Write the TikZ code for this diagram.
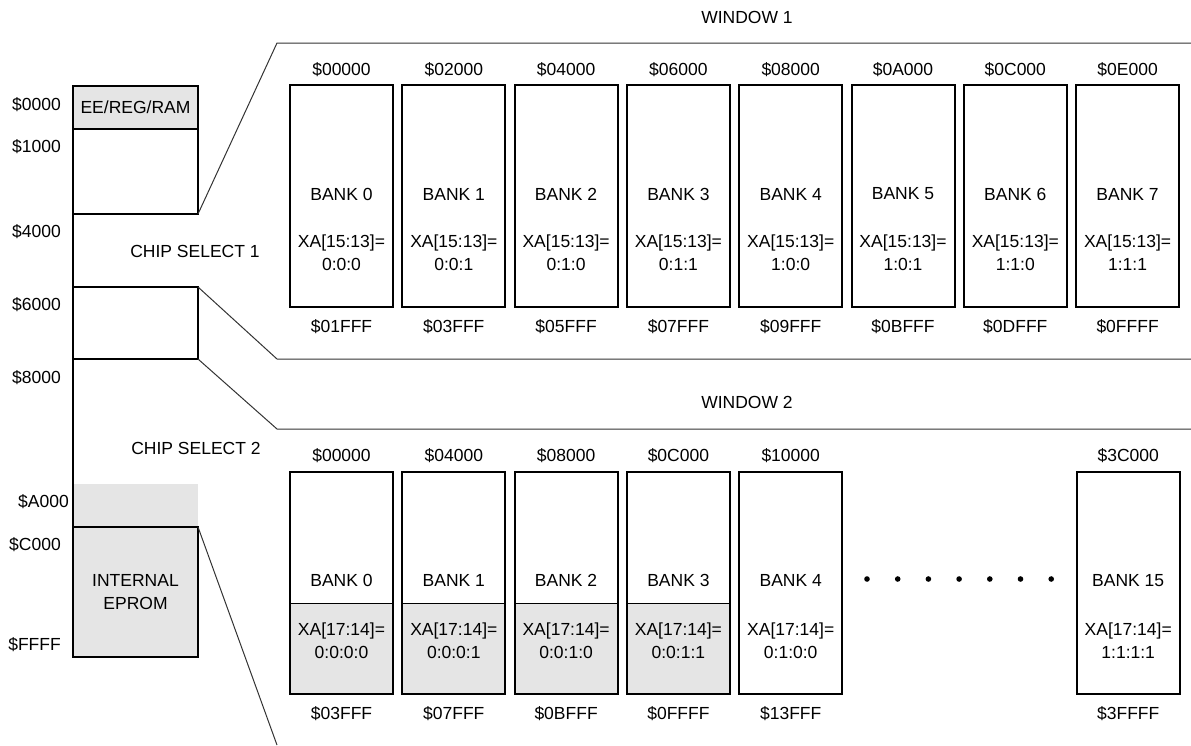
\documentclass[tikz,border=0pt]{standalone}
\usepackage{fontspec}
\setmainfont{Liberation Sans}
\usetikzlibrary{positioning}

\begin{document}
\begin{tikzpicture}[x=1pt,y=-1pt,font=\fontsize{17.5}{23}\selectfont,node distance=112.3pt,
every label/.style={inner sep=0pt},
mapbox/.style={draw,line width=2pt,minimum width=125pt,inner sep=0pt,outer sep=0pt,anchor=north west},
bank/.style={draw,line width=2pt,minimum width=103pt,minimum height=222pt,inner sep=0pt,outer sep=0pt},
greyed/.style={path picture={
  \fill[gray!20] (path picture bounding box.south west) rectangle ([yshift=90pt]path picture bounding box.south east);
  \draw[line width=1.3pt] ([yshift=90pt]path picture bounding box.south west) -- ([yshift=90pt]path picture bounding box.south east);}},
fromaddr/.style={label={[label distance=8.5pt]above:#1}},
toaddr/.style={label={[label distance=12.8pt]below:#1}},
wonetext/.style 2 args={label={[yshift=2pt]center:#1},label={[align=center,yshift=-57pt]center:#2}},
wtwotext/.style 2 args={label={[yshift=2pt]center:#1},label={[align=center,yshift=-58pt]center:#2}},
zoomline/.style={line width=1pt,black!80},
addr/.style={anchor=east,inner sep=0pt}]
\useasboundingbox (0,0) rectangle (1191,745);

% memory map
\node[mapbox,fill=gray!20,minimum height=43pt] (eeram) at (73,86) {EE/REG/RAM};
\node[mapbox,minimum height=85pt] (blk1) at (73,129) {};
\node[mapbox,minimum height=72pt] (blk2) at (73,287) {};
\node[mapbox,draw=none,fill=gray!20,minimum height=43pt] (gap) at (73,484) {};
\node[mapbox,fill=gray!20,minimum height=130pt,align=center] (eprom) at (73,527) {INTERNAL\\EPROM};
\draw[line width=2pt] (blk1.south west) -- (eprom.north west);

\node[addr] (a0) at (61,105) {\$0000};
\node[addr] (a1) at (61,147) {\$1000};
\node[addr] (a4) at (61,232) {\$4000};
\node[addr] (a6) at (61,305) {\$6000};
\node[addr] (a8) at (61,378) {\$8000};
\node[addr] (aa) at (69,502) {\$A000};
\node[addr] (ac) at (61,545) {\$C000};
\node[addr] (af) at (61,645) {\$FFFF};

\node (cs1) at (195,251) {CHIP SELECT 1};
\node (cs2) at (196,448) {CHIP SELECT 2};
\node (win1) at (747,17) {WINDOW 1};
\node (win2) at (747,402) {WINDOW 2};

% window 1
\node[bank,fromaddr=\$00000,toaddr=\$01FFF,wonetext={BANK 0}{XA[15:13]=\\0:0:0}] (w1b0) at (341.5,196) {};
\node[bank,fromaddr=\$02000,toaddr=\$03FFF,wonetext={BANK 1}{XA[15:13]=\\0:0:1}] (w1b1) [right of=w1b0] {};
\node[bank,fromaddr=\$04000,toaddr=\$05FFF,wonetext={BANK 2}{XA[15:13]=\\0:1:0}] (w1b2) [right of=w1b1] {};
\node[bank,fromaddr=\$06000,toaddr=\$07FFF,wonetext={BANK 3}{XA[15:13]=\\0:1:1}] (w1b3) [right of=w1b2] {};
\node[bank,fromaddr=\$08000,toaddr=\$09FFF,wonetext={BANK 4}{XA[15:13]=\\1:0:0}] (w1b4) [right of=w1b3] {};
\node[bank,fromaddr=\$0A000,toaddr=\$0BFFF,wonetext={BANK 5}{XA[15:13]=\\1:0:1}] (w1b5) [right of=w1b4] {};
\node[bank,fromaddr=\$0C000,toaddr=\$0DFFF,wonetext={BANK 6}{XA[15:13]=\\1:1:0}] (w1b6) [right of=w1b5] {};
\node[bank,fromaddr=\$0E000,toaddr=\$0FFFF,wonetext={BANK 7}{XA[15:13]=\\1:1:1}] (w1b7) [right of=w1b6] {};

% window 2
\node[bank,greyed,fromaddr=\$00000,toaddr=\$03FFF,wtwotext={BANK 0}{XA[17:14]=\\0:0:0:0}] (w2b0) at (341.5,582.5) {};
\node[bank,greyed,fromaddr=\$04000,toaddr=\$07FFF,wtwotext={BANK 1}{XA[17:14]=\\0:0:0:1}] (w2b1) [right of=w2b0] {};
\node[bank,greyed,fromaddr=\$08000,toaddr=\$0BFFF,wtwotext={BANK 2}{XA[17:14]=\\0:0:1:0}] (w2b2) [right of=w2b1] {};
\node[bank,greyed,fromaddr=\$0C000,toaddr=\$0FFFF,wtwotext={BANK 3}{XA[17:14]=\\0:0:1:1}] (w2b3) [right of=w2b2] {};
\node[bank,fromaddr=\$10000,toaddr=\$13FFF,wtwotext={BANK 4}{XA[17:14]=\\0:1:0:0}] (w2b4) [right of=w2b3] {};
\node[bank,node distance=337.5pt,fromaddr=\$3C000,toaddr=\$3FFFF,wtwotext={BANK 15}{XA[17:14]=\\1:1:1:1}] (w2b15) [right of=w2b4] {};
\foreach \i in {0,...,6} \fill (867+30.7*\i,579) circle (2.8pt);

% zoom lines
\coordinate (w1tl) at (277,43);
\coordinate (w1tr) at (1191,43);
\coordinate (w1bl) at (277,359);
\coordinate (w1br) at (1191,359);
\coordinate (w2tl) at (277,429);
\coordinate (w2tr) at (1191,429);
\coordinate (w2bl) at (277,745);
\draw[zoomline] (blk1.south east) -- (w1tl) -- (w1tr);
\draw[zoomline] (blk2.north east) -- (w1bl) -- (w1br);
\draw[zoomline] (blk2.south east) -- (w2tl) -- (w2tr);
\draw[zoomline] (eprom.north east) -- (w2bl);
\end{tikzpicture}
\end{document}
